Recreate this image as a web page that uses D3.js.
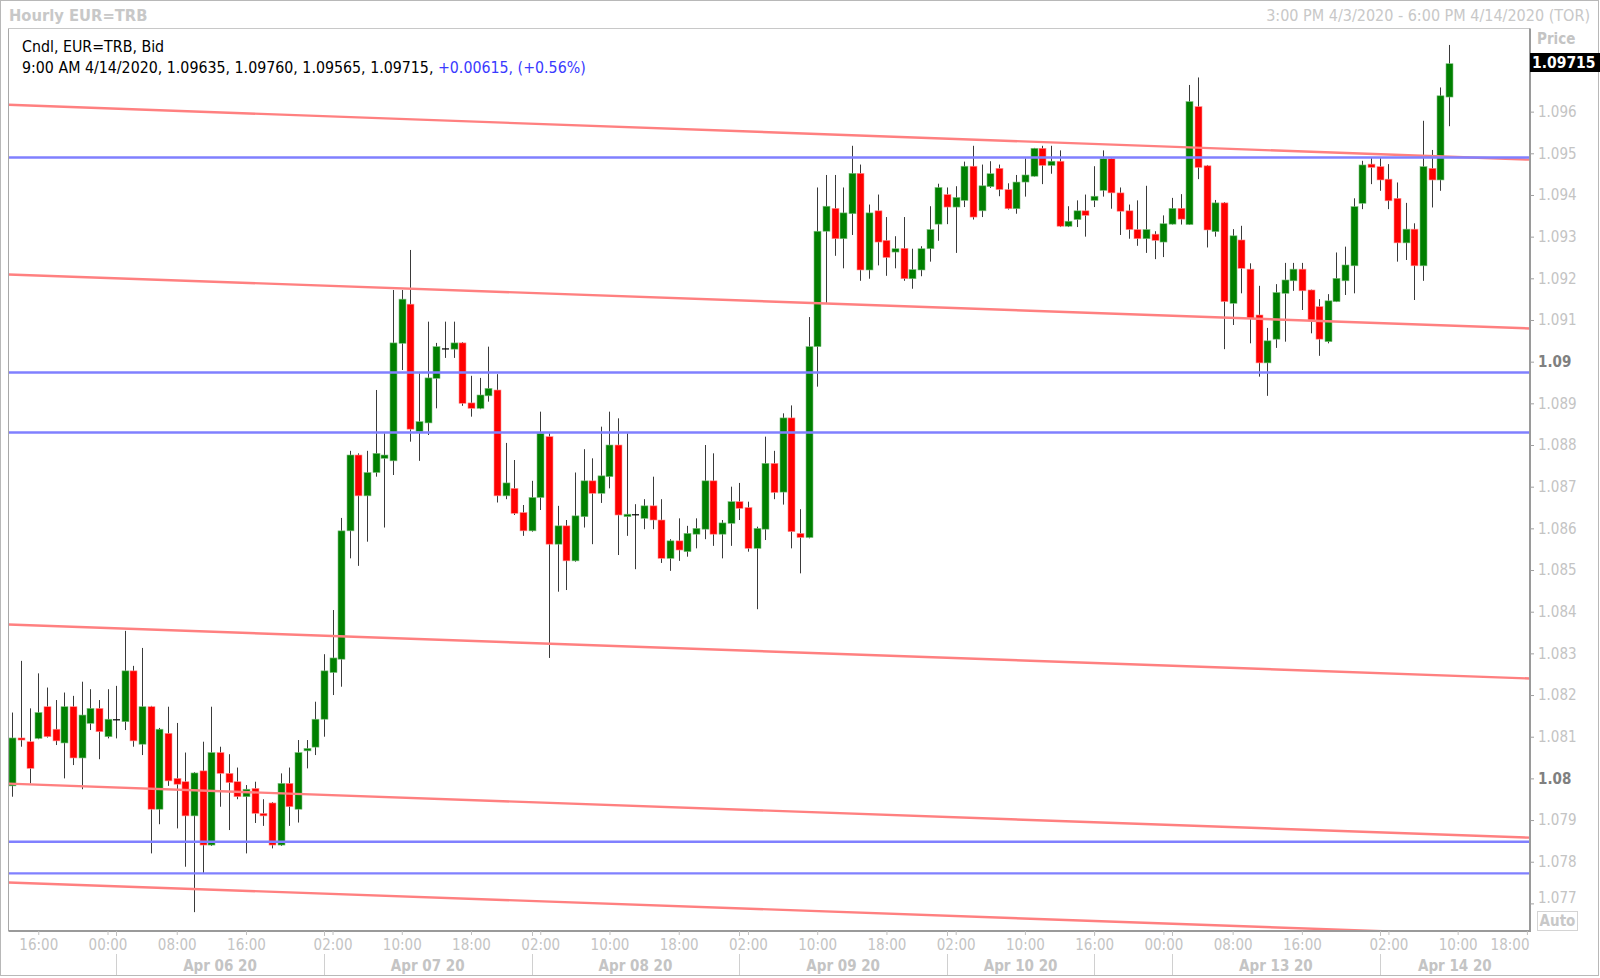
<!DOCTYPE html>
<html><head><meta charset="utf-8">
<script src="https://cdn.jsdelivr.net/npm/d3@7"></script>
<style>
html,body{margin:0;padding:0;background:#fff;}
svg{display:block;}
text{font-family:"DejaVu Sans Condensed","DejaVu Sans",sans-serif;font-stretch:condensed;}
</style></head><body>
<svg id="c" width="1600" height="978"></svg>
<script>
// ---- data (hourly EUR=TRB candles, 4/3/2020 .. 4/14/2020 9:00 AM) ----
const opens=[1.07982,1.08097,1.08088,1.08096,1.08172,1.08118,1.08085,1.08172,1.08049,1.08132,
1.08168,1.08100,1.08142,1.08136,1.08258,1.08082,1.08172,1.07926,1.08108,1.08000,
1.07992,1.07910,1.08018,1.07840,1.08062,1.08012,1.07992,1.07956,1.07976,1.07916,
1.07941,1.07840,1.07988,1.07926,1.08066,1.08075,1.08142,1.08254,1.08286,1.08594,
1.08776,1.08678,1.08734,1.08768,1.08762,1.09044,1.09138,1.08832,1.08853,1.08960,
1.09032,1.09030,1.09045,1.08901,1.08888,1.08918,1.08932,1.08678,1.08696,1.08638,
1.08594,1.08674,1.08820,1.08562,1.08606,1.08522,1.08628,1.08714,1.08684,1.08724,
1.08800,1.08628,1.08634,1.08624,1.08654,1.08620,1.08528,1.08570,1.08544,1.08586,
1.08598,1.08714,1.08586,1.08612,1.08664,1.08650,1.08552,1.08598,1.08756,1.08687,
1.08865,1.08588,1.08578,1.09036,1.09313,1.09368,1.09295,1.09355,1.09452,1.09220,
1.09362,1.09291,1.09263,1.09272,1.09199,1.09220,1.09271,1.09330,1.09401,1.09371,
1.09387,1.09469,1.09362,1.09420,1.09464,1.09413,1.09367,1.09431,1.09445,1.09512,
1.09471,1.09481,1.09325,1.09341,1.09362,1.09387,1.09411,1.09487,1.09405,1.09362,
1.09317,1.09295,1.09306,1.09287,1.09330,1.09368,1.09329,1.09612,1.09470,1.09312,
1.09381,1.09140,1.09292,1.09222,1.09112,1.08997,1.09054,1.09164,1.09194,1.09222,
1.09172,1.09132,1.09048,1.09144,1.09194,1.09230,1.09380,1.09474,1.09468,1.09438,
1.09392,1.09285,1.09318,1.09230,1.09464,1.09436,1.09635];
const highs=[1.08158,1.08282,1.08168,1.08252,1.08218,1.08188,1.08206,1.08198,1.08232,1.08214,
1.08188,1.08214,1.08222,1.08354,1.08270,1.08313,1.08174,1.08121,1.08172,1.08133,
1.08062,1.08015,1.08088,1.08172,1.08076,1.08058,1.08026,1.07984,1.07992,1.07950,
1.07943,1.08012,1.08026,1.08092,1.08092,1.08184,1.08298,1.08404,1.08625,1.08786,
1.08780,1.08786,1.08932,1.08828,1.09172,1.09172,1.09268,1.08972,1.09096,1.09045,
1.09096,1.09096,1.09047,1.08966,1.08961,1.09036,1.08970,1.08805,1.08764,1.08656,
1.08714,1.08880,1.08828,1.08654,1.08620,1.08734,1.08790,1.08768,1.08844,1.08880,
1.08864,1.08828,1.08658,1.08670,1.08724,1.08670,1.08574,1.08624,1.08606,1.08624,
1.08800,1.08780,1.08620,1.08700,1.08709,1.08664,1.08604,1.08820,1.08786,1.08876,
1.08895,1.08646,1.09107,1.09418,1.09448,1.09448,1.09418,1.09518,1.09473,1.09377,
1.09401,1.09347,1.09301,1.09347,1.09271,1.09277,1.09373,1.09427,1.09418,1.09421,
1.09480,1.09518,1.09473,1.09481,1.09473,1.09428,1.09448,1.09488,1.09513,1.09518,
1.09518,1.09507,1.09373,1.09387,1.09401,1.09469,1.09507,1.09489,1.09418,1.09377,
1.09387,1.09422,1.09313,1.09351,1.09393,1.09402,1.09664,1.09682,1.09472,1.09388,
1.09383,1.09318,1.09326,1.09236,1.09182,1.09081,1.09186,1.09237,1.09237,1.09237,
1.09173,1.09150,1.09162,1.09262,1.09276,1.09392,1.09482,1.09489,1.09489,1.09474,
1.09430,1.09381,1.09332,1.09578,1.09508,1.09658,1.09760];
const lows=[1.07956,1.08076,1.07988,1.08094,1.08098,1.08080,1.08000,1.08032,1.07974,1.08116,
1.08046,1.08096,1.08096,1.08116,1.08076,1.08056,1.07820,1.07890,1.07982,1.07880,
1.07788,1.07679,1.07773,1.07838,1.07932,1.07876,1.07950,1.07820,1.07893,1.07886,
1.07832,1.07838,1.07886,1.07894,1.08024,1.08056,1.08100,1.08200,1.08220,1.08528,
1.08510,1.08568,1.08724,1.08602,1.08728,1.08980,1.08808,1.08762,1.08824,1.08888,
1.09009,1.09009,1.08894,1.08868,1.08886,1.08904,1.08662,1.08670,1.08632,1.08582,
1.08592,1.08644,1.08289,1.08448,1.08452,1.08520,1.08602,1.08562,1.08661,1.08696,
1.08536,1.08582,1.08502,1.08598,1.08598,1.08517,1.08498,1.08522,1.08532,1.08552,
1.08574,1.08558,1.08528,1.08558,1.08620,1.08544,1.08406,1.08572,1.08670,1.08657,
1.08552,1.08492,1.08576,1.08940,1.09141,1.09254,1.09224,1.09304,1.09194,1.09199,
1.09231,1.09206,1.09224,1.09194,1.09175,1.09205,1.09240,1.09290,1.09330,1.09261,
1.09371,1.09341,1.09347,1.09417,1.09397,1.09365,1.09355,1.09396,1.09444,1.09426,
1.09451,1.09323,1.09323,1.09323,1.09300,1.09371,1.09396,1.09367,1.09304,1.09295,
1.09278,1.09261,1.09246,1.09251,1.09329,1.09329,1.09328,1.09438,1.09274,1.09300,
1.09030,1.09088,1.09164,1.09044,1.08964,1.08918,1.09033,1.09048,1.09170,1.09124,
1.09068,1.09014,1.09044,1.09143,1.09160,1.09164,1.09366,1.09426,1.09410,1.09366,
1.09240,1.09244,1.09148,1.09194,1.09370,1.09410,1.09565];
const closes=[1.08097,1.08092,1.08024,1.08158,1.08100,1.08090,1.08172,1.08049,1.08152,1.08168,
1.08112,1.08142,1.08142,1.08258,1.08090,1.08172,1.07926,1.08118,1.07994,1.07986,
1.07910,1.08013,1.07840,1.08062,1.08012,1.07990,1.07956,1.07974,1.07916,1.07910,
1.07840,1.07988,1.07932,1.08062,1.08072,1.08142,1.08258,1.08289,1.08594,1.08776,
1.08678,1.08734,1.08780,1.08776,1.09045,1.09150,1.08838,1.08856,1.08961,1.09036,
1.09032,1.09045,1.08900,1.08888,1.08920,1.08936,1.08678,1.08709,1.08636,1.08594,
1.08674,1.08828,1.08562,1.08606,1.08522,1.08630,1.08714,1.08684,1.08726,1.08800,
1.08632,1.08634,1.08634,1.08654,1.08620,1.08528,1.08570,1.08548,1.08588,1.08600,
1.08714,1.08586,1.08613,1.08664,1.08648,1.08552,1.08600,1.08756,1.08686,1.08865,
1.08592,1.08578,1.09036,1.09313,1.09373,1.09295,1.09357,1.09452,1.09220,1.09357,
1.09287,1.09250,1.09271,1.09199,1.09221,1.09271,1.09317,1.09418,1.09371,1.09394,
1.09469,1.09347,1.09422,1.09451,1.09413,1.09367,1.09431,1.09448,1.09512,1.09471,
1.09481,1.09325,1.09337,1.09362,1.09351,1.09397,1.09487,1.09405,1.09361,1.09317,
1.09295,1.09317,1.09291,1.09331,1.09368,1.09342,1.09624,1.09466,1.09316,1.09381,
1.09144,1.09302,1.09224,1.09104,1.08997,1.09050,1.09166,1.09196,1.09222,1.09170,
1.09100,1.09054,1.09146,1.09200,1.09232,1.09372,1.09472,1.09466,1.09436,1.09386,
1.09285,1.09318,1.09230,1.09468,1.09436,1.09638,1.09715];

const priceTicks=[1.077,1.078,1.079,1.080,1.081,1.082,1.083,1.084,1.085,1.086,1.087,1.088,1.089,1.090,1.091,1.092,1.093,1.094,1.095,1.096];
const boldTicks=[1.080,1.090];
const timeTickIdx=[3,11,19,27,37,45,53,61,69,77,85,93,101,109,117,125,133,141,149,159,167,175];
const timeTickLabels=["16:00","00:00","08:00","16:00","02:00","10:00","18:00","02:00","10:00","18:00","02:00","10:00","18:00","02:00","10:00","16:00","00:00","08:00","16:00","02:00","10:00","18:00"];
const daySepIdx=[12,36,60,84,108,125,134,158];
const dayLabels=["Apr 06 20","Apr 07 20","Apr 08 20","Apr 09 20","Apr 10 20","","Apr 13 20","Apr 14 20"];
const hLevels=[1.09490,1.08974,1.08830,1.07848,1.07772];
const trendStart=[1.09616,1.09209,1.08369,1.07987,1.07750]; // price at bar index 0
const trendEnd=[1.09485,1.09080,1.08240,1.07858,1.07621];   // price at bar index 175
const lastQuote={time:"9:00 AM 4/14/2020",o:"1.09635",h:"1.09760",l:"1.09565",c:"1.09715",chg:"+0.00615",pct:"(+0.56%)"};

// ---- layout ----
const L=8.5,R=1530,T=28.5,B=931;
const svg=d3.select("#c");
const x=d3.scaleLinear().domain([0,166]).range([12.3,1449]);
const y=d3.scaleLinear().domain([1.077,1.095]).range([903.4,153.3]);

const candles=opens.map((o,i)=>({i,o,h:highs[i],l:lows[i],c:closes[i]}));

// outer frame
svg.append("rect").attr("x",0.5).attr("y",0.5).attr("width",1598).attr("height",975)
  .attr("fill","none").attr("stroke","#b8b8b8");

// titles
svg.append("text").attr("x",9).attr("y",21).attr("font-size",16.4).attr("font-weight","bold")
  .attr("fill","#c8c8c8").text("Hourly EUR=TRB");
svg.append("text").attr("x",1590).attr("y",21).attr("font-size",16).attr("text-anchor","end")
  .attr("fill","#c8c8c8").text("3:00 PM 4/3/2020 - 6:00 PM 4/14/2020 (TOR)");

// clip
svg.append("clipPath").attr("id","plotclip").append("rect")
  .attr("x",L).attr("y",T).attr("width",R-L).attr("height",B-T);
const plot=svg.append("g").attr("clip-path","url(#plotclip)");

// candles
const bw=7;
const cg=plot.append("g");
cg.selectAll("line.wick").data(candles).join("line").attr("class","wick")
  .attr("x1",d=>Math.round(x(d.i))+0.5).attr("x2",d=>Math.round(x(d.i))+0.5)
  .attr("y1",d=>y(d.h)).attr("y2",d=>y(d.l))
  .attr("stroke","#3a3a3a").attr("stroke-width",1);
cg.selectAll("rect.body").data(candles).join("rect").attr("class","body")
  .attr("x",d=>Math.round(x(d.i))+0.5-bw/2)
  .attr("width",bw)
  .attr("y",d=>y(Math.max(d.o,d.c)))
  .attr("height",d=>Math.max(1.2,Math.abs(y(d.o)-y(d.c))))
  .attr("fill",d=>d.c>d.o?"#008000":(d.c<d.o?"#ff0000":"#000"))
  .attr("stroke",d=>d.c>d.o?"#7fbf7f":(d.c<d.o?"#ff9090":"none"))
  .attr("stroke-width",0.6);

// trend lines (red)
const i0=x.invert(L),i1=x.invert(R);
plot.selectAll("line.trend").data(trendStart.map((s,k)=>({s,e:trendEnd[k]}))).join("line")
  .attr("class","trend")
  .attr("x1",x(i0)).attr("x2",x(i1))
  .attr("y1",d=>y(d.s+(d.e-d.s)*i0/175)).attr("y2",d=>y(d.s+(d.e-d.s)*i1/175))
  .attr("stroke","#ff8080").attr("stroke-width",2.4);

// horizontal levels (blue)
plot.selectAll("line.lvl").data(hLevels).join("line").attr("class","lvl")
  .attr("x1",L).attr("x2",R).attr("y1",d=>y(d)).attr("y2",d=>y(d))
  .attr("stroke","#8080ff").attr("stroke-width",2.4);

// plot frame
svg.append("line").attr("x1",L).attr("x2",R).attr("y1",T).attr("y2",T).attr("stroke","#c8c8c8");
svg.append("line").attr("x1",L).attr("x2",L).attr("y1",T).attr("y2",B).attr("stroke","#a8a8a8");
svg.append("line").attr("x1",L).attr("x2",R+1).attr("y1",B).attr("y2",B).attr("stroke","#9a9a9a").attr("stroke-width",2);
svg.append("line").attr("x1",R).attr("x2",R).attr("y1",T).attr("y2",B).attr("stroke","#9a9a9a").attr("stroke-width",2);

// header text inside plot
svg.append("text").attr("x",22).attr("y",52).attr("font-size",15.8).attr("fill","#000")
  .text("Cndl, EUR=TRB, Bid");
const t2=svg.append("text").attr("x",22).attr("y",73).attr("font-size",15.8).attr("fill","#000");
t2.append("tspan").text(`${lastQuote.time}, ${lastQuote.o}, ${lastQuote.h}, ${lastQuote.l}, ${lastQuote.c}, `);
t2.append("tspan").attr("fill","#3a3aff").text(`${lastQuote.chg}, ${lastQuote.pct}`);

// y axis
const isBold=d=>boldTicks.some(b=>Math.abs(b-d)<1e-9);
const yAxis=d3.axisRight(y).tickValues(priceTicks).tickSize(4).tickPadding(4)
  .tickFormat(d=>isBold(d)?d3.format(".2f")(d):d3.format(".3f")(d));
const ya=svg.append("g").attr("transform",`translate(${R},0)`).call(yAxis);
ya.select(".domain").remove();
ya.selectAll(".tick line").attr("stroke","#a0a0a0");
ya.selectAll(".tick text").attr("font-size",15).attr("font-family",null)
  .attr("fill",d=>isBold(d)?"#808080":"#c4c4c4")
  .attr("font-weight",d=>isBold(d)?"bold":"normal")
  .attr("dy",d=>(y(d)>895?"-0.05em":"0.32em"));

svg.append("text").attr("x",1537).attr("y",44).attr("font-size",15).attr("font-weight","bold")
  .attr("fill","#c4c4c4").text("Price");
svg.append("rect").attr("x",R).attr("y",53).attr("width",70).attr("height",19).attr("fill","#000");
svg.append("text").attr("x",1532).attr("y",68).attr("font-size",15.5).attr("font-weight","bold")
  .attr("fill","#fff").text(lastQuote.c);
svg.append("rect").attr("x",1537.5).attr("y",911.5).attr("width",40).attr("height",19)
  .attr("fill","none").attr("stroke","#d4d4d4");
svg.append("text").attr("x",1557.5).attr("y",926).attr("text-anchor","middle").attr("font-size",15)
  .attr("font-weight","bold").attr("fill","#c8c8c8").text("Auto");

// x axis (hour ticks)
const xAxis=d3.axisBottom(x).tickValues(timeTickIdx).tickSize(4)
  .tickFormat((d,k)=>timeTickLabels[k]);
const xa=svg.append("g").attr("transform",`translate(0,${B})`).call(xAxis);
xa.select(".domain").remove();
xa.selectAll(".tick line").attr("stroke","#c0c0c0");
xa.selectAll(".tick text").attr("font-size",15).attr("font-family",null).attr("fill","#c4c4c4")
  .attr("y",14).attr("dy","0.35em")
  .attr("text-anchor",d=>x(d)>R-15?"end":"middle")
  .attr("x",d=>x(d)>R-15?R-x(d)-1:0);

// day separators and labels
const sepX=daySepIdx.map(i=>x(i));
svg.selectAll("line.sep").data(sepX).join("line").attr("class","sep")
  .attr("x1",d=>Math.round(d)+0.5).attr("x2",d=>Math.round(d)+0.5).attr("y1",954).attr("y2",975)
  .attr("stroke","#d0d0d0");
svg.selectAll("line.sept").data(sepX).join("line").attr("class","sept")
  .attr("x1",d=>Math.round(d)+0.5).attr("x2",d=>Math.round(d)+0.5).attr("y1",B).attr("y2",B+5)
  .attr("stroke","#c0c0c0");
const segEnd=daySepIdx.slice(1).concat([x.invert(R)]);
svg.selectAll("text.day").data(daySepIdx.map((s,k)=>({s,e:segEnd[k],t:dayLabels[k]}))).join("text")
  .attr("class","day")
  .attr("x",d=>x((d.s+d.e)/2)).attr("y",971).attr("text-anchor","middle")
  .attr("font-size",15).attr("font-weight","bold").attr("fill","#c4c4c4").text(d=>d.t);
</script>
</body></html>
